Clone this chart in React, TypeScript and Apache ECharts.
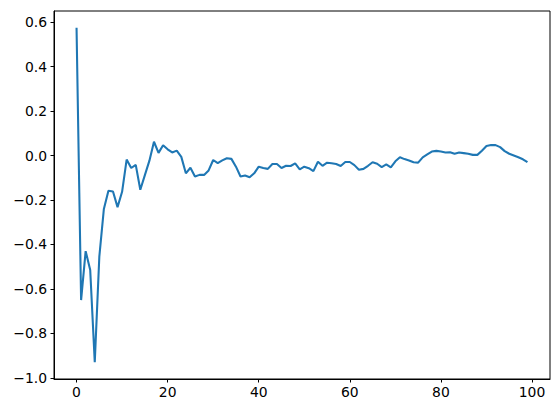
import React, { useEffect, useRef } from "react";
import * as echarts from "echarts";

const xValues: number[] = Array.from({ length: 100 }, (_, i) => i);
const yValues: number[] = [
  0.575, -0.65, -0.43, -0.515, -0.93, -0.455, -0.24, -0.158, -0.162, -0.232,
  -0.163, -0.018, -0.056, -0.042, -0.154, -0.088, -0.023, 0.062, 0.012, 0.046,
  0.028, 0.014, 0.022, -0.006, -0.08, -0.055, -0.094, -0.087, -0.087, -0.067,
  -0.02, -0.034, -0.022, -0.012, -0.015, -0.05, -0.094, -0.09, -0.098, -0.08,
  -0.05, -0.056, -0.06, -0.038, -0.038, -0.056, -0.046, -0.047, -0.035, -0.062,
  -0.05, -0.057, -0.07, -0.028, -0.046, -0.032, -0.035, -0.038, -0.047, -0.029,
  -0.029, -0.043, -0.064, -0.06, -0.046, -0.03, -0.037, -0.052, -0.04, -0.053,
  -0.026, -0.008, -0.016, -0.022, -0.03, -0.032, -0.008, 0.005, 0.018, 0.021,
  0.018, 0.014, 0.015, 0.008, 0.014, 0.011, 0.008, 0.003, 0.003, 0.022,
  0.043, 0.047, 0.047, 0.038, 0.02, 0.008, 0.0, -0.008, -0.017, -0.03,
];
const xTicks: number[] = [0, 20, 40, 60, 80, 100];
const yTicks: number[] = [-1.0, -0.8, -0.6, -0.4, -0.2, 0.0, 0.2, 0.4, 0.6];

const fmtY = (v: number) => {
  const s = Math.abs(v).toFixed(1);
  return v < -1e-9 ? "\u2212" + s : s;
};

export default function App() {
  const ref = useRef<HTMLDivElement>(null);
  useEffect(() => {
    if (!ref.current) return;
    const chart = echarts.init(ref.current, null, { renderer: "svg" });
    const yMin = Math.min(...yValues);
    const yMax = Math.max(...yValues);
    const yPad = (yMax - yMin) * 0.05;
    const xPad = (xValues[xValues.length - 1] - xValues[0]) * 0.05;
    const font = { fontFamily: "DejaVu Sans", fontSize: 13.9, color: "#000" };
    chart.setOption({
      animation: false,
      backgroundColor: "#fff",
      grid: {
        left: 54,
        right: 9,
        top: 11,
        bottom: 34,
        show: true,
        borderColor: "#000",
        borderWidth: 1,
        backgroundColor: "transparent",
      },
      xAxis: {
        type: "value",
        min: xValues[0] - xPad,
        max: xValues[xValues.length - 1] + xPad,
        axisLine: { show: true, onZero: false, lineStyle: { color: "#000", width: 1 } },
        axisTick: {
          show: true,
          length: 3.5,
          lineStyle: { color: "#000", width: 1 },
          customValues: xTicks,
        },
        axisLabel: {
          ...font,
          margin: 6,
          customValues: xTicks,
          formatter: (v: number) => String(Math.round(v)),
        },
        splitLine: { show: false },
      },
      yAxis: {
        type: "value",
        min: yMin - yPad,
        max: yMax + yPad,
        axisLine: { show: true, onZero: false, lineStyle: { color: "#000", width: 1 } },
        axisTick: {
          show: true,
          length: 3.5,
          lineStyle: { color: "#000", width: 1 },
          customValues: yTicks,
        },
        axisLabel: {
          ...font,
          margin: 7,
          customValues: yTicks,
          formatter: (v: number) => fmtY(v),
        },
        splitLine: { show: false },
      },
      series: [
        {
          type: "line",
          data: xValues.map((x, i) => [x, yValues[i]]),
          showSymbol: false,
          symbol: "none",
          lineStyle: { color: "#1f77b4", width: 2.08 },
          itemStyle: { color: "#1f77b4" },
        },
      ],
    });
    return () => chart.dispose();
  }, []);
  return <div ref={ref} style={{ width: 559, height: 413, position: "absolute", left: 0, top: 0 }} />;
}
